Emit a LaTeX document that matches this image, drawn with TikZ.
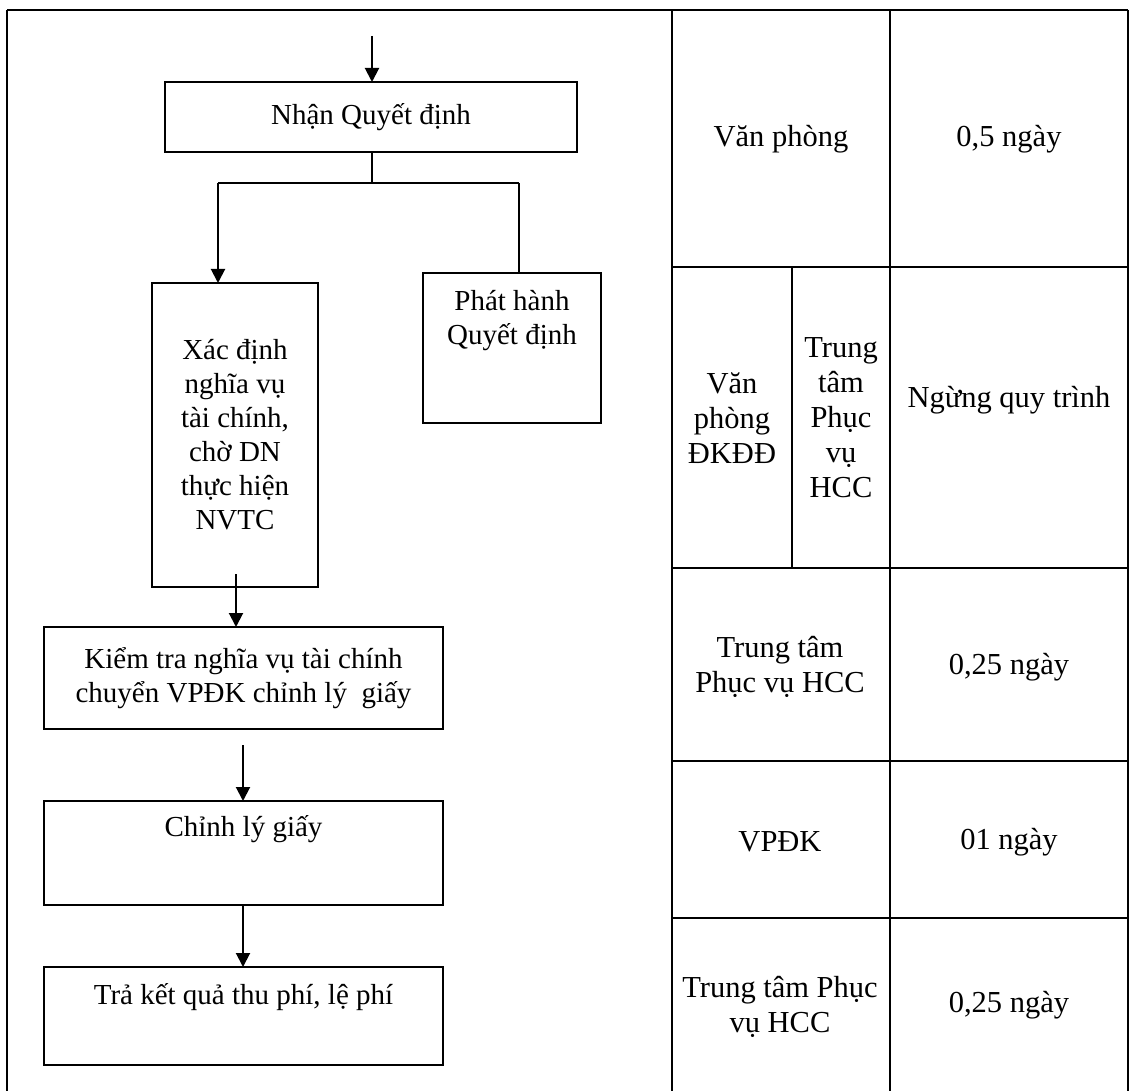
\documentclass[tikz,border=0pt]{standalone}
\usepackage{fontspec}
\setmainfont{Liberation Serif}
\usetikzlibrary{arrows.meta}
\begin{document}
\begin{tikzpicture}[x=1pt,y=-1pt,
  every node/.style={font=\fontsize{29}{34}\selectfont, inner sep=0pt, outer sep=0pt},
  box/.style={draw, line width=2pt, rectangle},
  lbl/.style={align=center},
  tcell/.style={align=center, font=\fontsize{30.5}{35}\selectfont},
  conn/.style={line width=2pt},
  arr/.style={line width=2pt, -{Triangle[length=14pt,width=14pt]}},
  rule/.style={line width=1.8pt}
]
\useasboundingbox (0,0) rectangle (1130,1091);

% frame and table grid
\draw[rule] (7,10) -- (1128,10);
\draw[rule] (7,10) -- (7,1091);
\draw[rule] (672,10) -- (672,1091);
\draw[rule] (890,10) -- (890,1091);
\draw[rule] (1128,10) -- (1128,1091);
\draw[rule] (792,267) -- (792,568);
\draw[rule] (672,267) -- (1128,267);
\draw[rule] (672,568) -- (1128,568);
\draw[rule] (672,761) -- (1128,761);
\draw[rule] (672,918) -- (1128,918);

% table texts
\node[tcell] (t1a) at (781,139) {Văn phòng};
\node[tcell] (t1b) at (1009,139) {0,5 ngày};
\node[tcell] (t2a) at (732,418) {Văn\\phòng\\ĐKĐĐ};
\node[tcell] (t2b) at (841,418) {Trung\\tâm\\Phục\\vụ\\HCC};
\node[tcell] (t2c) at (1009,400) {Ngừng quy trình};
\node[tcell] (t3a) at (780,667) {Trung tâm\\Phục vụ HCC};
\node[tcell] (t3b) at (1009,667) {0,25 ngày};
\node[tcell] (t4a) at (780,842) {VPĐK};
\node[tcell] (t4b) at (1009,842) {01 ngày};
\node[tcell] (t5a) at (780,1007) {Trung tâm Phục\\vụ HCC};
\node[tcell] (t5b) at (1009,1005) {0,25 ngày};

% flow boxes
\node[box, minimum width=412pt, minimum height=70pt] (n1) at (371,117) {Nhận Quyết định};
\node[box, lbl, minimum width=166pt, minimum height=304pt] (xd) at (235,435)
  {Xác định\\nghĩa vụ\\tài chính,\\chờ DN\\thực hiện\\NVTC};
\node[box, minimum width=178pt, minimum height=150pt] (ph) at (512,348) {};
\node[lbl, anchor=north] (pht) at (512,290) {Phát hành\\Quyết định};
\node[box, lbl, minimum width=399pt, minimum height=102pt] (kt) at (243.5,678)
  {Kiểm tra nghĩa vụ tài chính\\chuyển VPĐK chỉnh lý~ giấy};
\node[box, minimum width=399pt, minimum height=104pt] (cl) at (243.5,853) {};
\node[anchor=north] (clt) at (243.5,815) {Chỉnh lý giấy};
\node[box, minimum width=399pt, minimum height=98pt] (tr) at (243.5,1016) {};
\node[anchor=north] (trt) at (243.5,983) {Trả kết quả thu phí, lệ phí};

% connectors
\coordinate (a0) at (372,36);
\draw[arr] (a0) -- (a0 |- n1.north);
\coordinate (j) at (372,183);
\coordinate (jl) at (218,183);
\coordinate (jr) at (519,183);
\draw[conn] (n1.south -| j) -- (j);
\draw[conn] (jl) -- (jr);
\draw[arr] (jl) -- (jl |- xd.north);
\draw[conn] (jr) -- (jr |- ph.north);
\coordinate (a3) at (236,574);
\draw[arr] (a3) -- (a3 |- kt.north);
\coordinate (a4) at (243,745);
\draw[arr] (a4) -- (a4 |- cl.north);
\coordinate (a5) at (243,905);
\draw[arr] (a5) -- (a5 |- tr.north);
\end{tikzpicture}
\end{document}
